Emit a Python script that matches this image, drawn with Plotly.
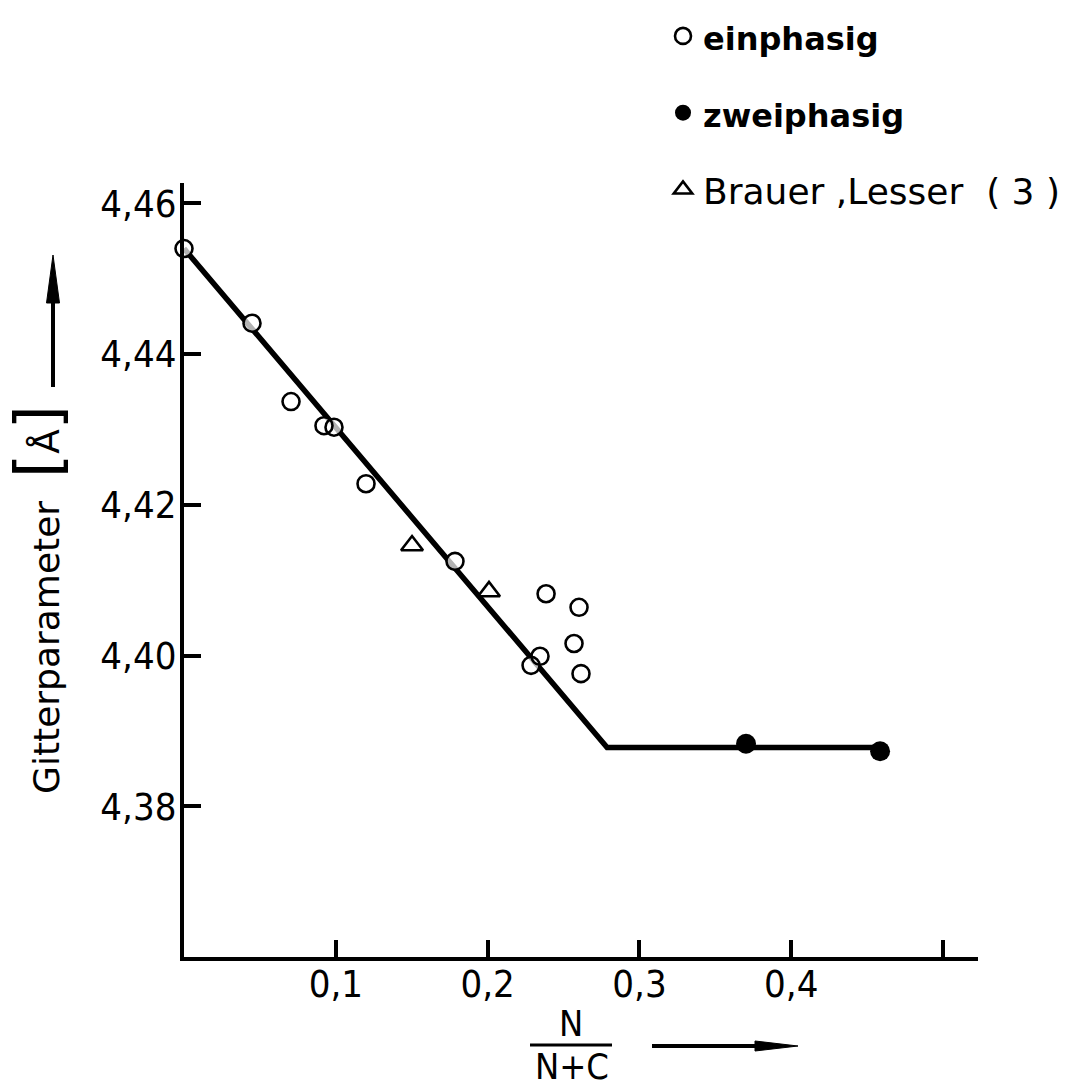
import plotly.graph_objects as go

# Lattice parameter vs. N/(N+C)
# single-phase samples (open circles)
ein_x = [0.0, 0.0448, 0.0705, 0.0922, 0.0988, 0.1199, 0.1785,
         0.2286, 0.2345, 0.2385, 0.2569, 0.2602, 0.2615]
ein_y = [4.4540, 4.4441, 4.4337, 4.4305, 4.4303, 4.4228, 4.4125,
         4.3987, 4.3999, 4.4082, 4.4016, 4.4064, 4.3976]

# two-phase samples (filled circles)
zwei_x = [0.3702, 0.4585]
zwei_y = [4.3883, 4.3873]

# Brauer, Lesser (3) (triangles)
bl_x = [0.1502, 0.2009]
bl_y = [4.4146, 4.4085]

# fitted curve: linear decrease, then constant in the two-phase field
fit_x = [0.0, 0.2787, 0.4585]
fit_y = [4.4540, 4.3878, 4.3878]

x_ticks = [0.1, 0.2, 0.3, 0.4, 0.5]
x_labels = ["0,1", "0,2", "0,3", "0,4", ""]
y_ticks = [4.38, 4.40, 4.42, 4.44, 4.46]
y_labels = ["4,38", "4,40", "4,42", "4,44", "4,46"]

W, H = 1066, 1088
PL, PR, PT, PB = 184, 978, 183, 957  # plot area in pixels


def px(x):
    return (x - PL) / (PR - PL)


def py(y):
    return (PB - y) / (PB - PT)


NARROW = "Liberation Sans Narrow, DejaVu Sans Condensed, Arial Narrow, DejaVu Sans"
SANS = "DejaVu Sans, Open Sans, sans-serif"

fig = go.Figure()

fig.add_trace(go.Scatter(
    x=fit_x, y=fit_y, mode="lines",
    line=dict(color="black", width=5.5),
    showlegend=False, hoverinfo="skip", cliponaxis=False,
))

# white discs so the curve does not show through the open symbols
fig.add_trace(go.Scatter(
    x=ein_x + bl_x, y=ein_y + bl_y, mode="markers",
    marker=dict(symbol=["circle"] * len(ein_x) + ["triangle-up"] * len(bl_x),
                size=[17] * len(ein_x) + [19] * len(bl_x), color="white",
                line=dict(width=0)),
    showlegend=False, hoverinfo="skip", cliponaxis=False,
))

fig.add_trace(go.Scatter(
    x=ein_x, y=ein_y, mode="markers",
    name="<span style='font-size:32px'><b>einphasig</b></span>",
    marker=dict(symbol="circle-open", size=17, color="black",
                line=dict(width=2.6, color="black")),
    cliponaxis=False, legendgroup="a",
))
fig.add_trace(go.Scatter(
    x=zwei_x, y=zwei_y, mode="markers",
    name="<span style='font-size:32px'><b>zweiphasig</b></span>",
    marker=dict(symbol="circle", size=20, color="black"),
    cliponaxis=False, legendgroup="b",
))
fig.add_trace(go.Scatter(
    x=bl_x, y=bl_y, mode="markers",
    name="Brauer\u00a0,Lesser\u00a0\u00a0(\u00a03\u00a0)",
    marker=dict(symbol="triangle-up-open", size=19, color="black",
                line=dict(width=2.6, color="black")),
    cliponaxis=False, legendgroup="c",
))

axis_common = dict(
    showline=True, linecolor="black", linewidth=4,
    ticks="inside", ticklen=17, tickwidth=4, tickcolor="black",
    showgrid=False, zeroline=False,
    tickfont=dict(family=NARROW, size=38, color="black"),
)

fig.update_xaxes(range=[0, 0.523], tickvals=x_ticks, ticktext=x_labels,
                 ticklabelstandoff=-10, **axis_common)
fig.update_yaxes(range=[4.36, 4.4627], tickvals=y_ticks, ticktext=y_labels,
                 ticklabelstandoff=-4, **axis_common)

shapes = []
# y-axis arrow
shapes.append(dict(type="line", xref="paper", yref="paper",
                   x0=px(53), x1=px(53), y0=py(387), y1=py(298),
                   line=dict(color="black", width=4)))
shapes.append(dict(type="path", xref="paper", yref="paper",
                   path=f"M{px(53)},{py(255)} L{px(59.5)},{py(303)} L{px(46.5)},{py(303)} Z",
                   fillcolor="black", line=dict(color="black", width=1)))
# x-axis arrow
shapes.append(dict(type="line", xref="paper", yref="paper",
                   x0=px(652), x1=px(758), y0=py(1046), y1=py(1046),
                   line=dict(color="black", width=4)))
shapes.append(dict(type="path", xref="paper", yref="paper",
                   path=f"M{px(798)},{py(1046)} L{px(755)},{py(1051)} L{px(755)},{py(1041)} Z",
                   fillcolor="black", line=dict(color="black", width=1)))
# fraction bar
shapes.append(dict(type="line", xref="paper", yref="paper",
                   x0=px(530), x1=px(612), y0=py(1045), y1=py(1045),
                   line=dict(color="black", width=3)))

annotations = [
    dict(text="N", x=px(571), y=py(1023), xref="paper", yref="paper",
         showarrow=False, font=dict(family=NARROW, size=36, color="black"),
         xanchor="center", yanchor="middle"),
    dict(text="N+C", x=px(572), y=py(1066), xref="paper", yref="paper",
         showarrow=False, font=dict(family=NARROW, size=36, color="black"),
         xanchor="center", yanchor="middle"),
    dict(text="Gitterparameter\u00a0\u00a0<span style='font-size:62px'>[</span>Å<span style='font-size:62px'>]</span>",
         x=px(37), y=py(600), xref="paper", yref="paper", textangle=-90,
         showarrow=False, font=dict(family=SANS, size=36, color="black"),
         xanchor="center", yanchor="middle"),
]

fig.update_layout(
    width=W, height=H,
    margin=dict(l=PL, r=W - PR, t=PT, b=H - PB, autoexpand=False),
    paper_bgcolor="white", plot_bgcolor="white",
    shapes=shapes, annotations=annotations,
    legend=dict(x=px(663), y=py(6), xanchor="left", yanchor="top",
                font=dict(family=SANS, size=36, color="black"),
                tracegroupgap=27, bgcolor="rgba(0,0,0,0)", itemsizing="trace"),
    showlegend=True,
)

fig.write_html("out.html")
